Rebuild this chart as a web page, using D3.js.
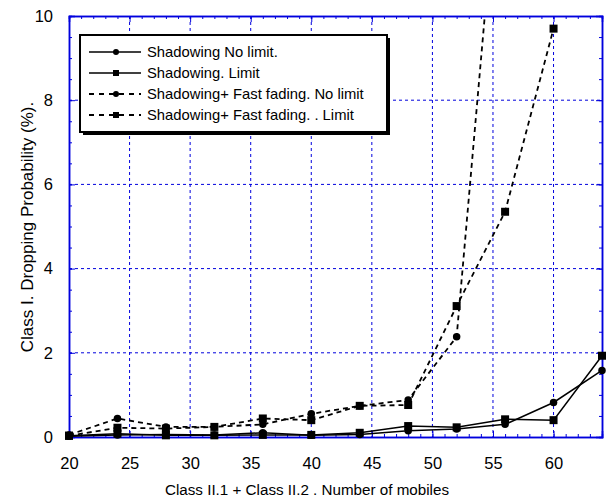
<!DOCTYPE html>
<html>
<head>
<meta charset="utf-8">
<script src="https://cdn.jsdelivr.net/npm/d3@7"></script>
<style>
  body { margin: 0; background: #fff; }
  svg { font-family: "Liberation Sans", Arial, sans-serif; }
</style>
</head>
<body>
<div id="chart"></div>
<script>
// data
var mobiles = [20, 24, 28, 32, 36, 40, 44, 48, 52, 56, 60, 64];
var shadowNoLimit = [0.02, 0.05, 0.06, 0.05, 0.10, 0.04, 0.06, 0.15, 0.19, 0.30, 0.82, 1.58];
var shadowLimit = [0.03, 0.08, 0.04, 0.04, 0.05, 0.05, 0.10, 0.26, 0.23, 0.42, 0.40, 1.93];
var fadingNoLimit = [0.05, 0.44, 0.24, 0.24, 0.30, 0.55, 0.74, 0.88, 2.38, 15.5];
var fadingLimit = [0.03, 0.22, 0.20, 0.24, 0.44, 0.40, 0.74, 0.76, 3.11, 5.35, 9.7];
var xTicks = [20, 25, 30, 35, 40, 45, 50, 55, 60];
var yTicks = [0, 2, 4, 6, 8, 10];
var seriesNames = ["Shadowing No limit.", "Shadowing. Limit",
    "Shadowing+ Fast fading. No limit", "Shadowing+ Fast fading. . Limit"];

var series = [
    { name: seriesNames[0], vals: shadowNoLimit, dash: null, marker: 'circle' },
    { name: seriesNames[1], vals: shadowLimit, dash: null, marker: 'square' },
    { name: seriesNames[2], vals: fadingNoLimit, dash: '5,4', marker: 'circle' },
    { name: seriesNames[3], vals: fadingLimit, dash: '5,4', marker: 'square' }
];

var margin = { top: 16, right: 4, bottom: 63, left: 69 };
var width = 606 - margin.left - margin.right,
    height = 500 - margin.top - margin.bottom;
var blue = '#0000dd';

var x = d3.scaleLinear().domain([20, 64]).range([0, width]);
var y = d3.scaleLinear().domain([0, 10]).range([height, 0]);

var svg = d3.select('#chart').append('svg')
    .attr('width', 606).attr('height', 500);
var g = svg.append('g')
    .attr('transform', 'translate(' + margin.left + ',' + margin.top + ')');

svg.append('defs').append('clipPath').attr('id', 'clip')
    .append('rect').attr('x', -6).attr('y', 0).attr('width', width + 12).attr('height', height + 6);

// grid
g.selectAll('.vgrid').data(xTicks.slice(1)).enter().append('line')
    .attr('x1', d => x(d)).attr('x2', d => x(d))
    .attr('y1', 0).attr('y2', height)
    .attr('stroke', blue).attr('stroke-width', 1).attr('stroke-dasharray', '3,3');
g.selectAll('.hgrid').data(yTicks.slice(1, -1)).enter().append('line')
    .attr('x1', 0).attr('x2', width)
    .attr('y1', d => y(d)).attr('y2', d => y(d))
    .attr('stroke', blue).attr('stroke-width', 1).attr('stroke-dasharray', '3,3');

// axes (ticks inside, on all four sides)
function styleAxis(sel) {
    sel.select('.domain').attr('stroke', blue).attr('stroke-width', 1.5);
    sel.selectAll('.tick line').attr('stroke', blue);
    sel.selectAll('text').attr('fill', '#000').attr('font-size', 16.5)
        .attr('font-family', '"Liberation Sans", Arial, sans-serif');
}
var xMinor = d3.range(20, 65, 1), yMinor = d3.range(0, 10.01, 0.5);

g.append('g').attr('transform', 'translate(0,' + height + ')')
    .call(d3.axisBottom(x).tickValues(xMinor).tickSize(-3).tickFormat(''))
    .call(styleAxis);
g.append('g').attr('transform', 'translate(0,' + height + ')')
    .call(d3.axisBottom(x).tickValues(xTicks).tickSize(-6).tickPadding(20).tickFormat(d3.format('d')))
    .call(styleAxis);
g.append('g')
    .call(d3.axisTop(x).tickValues(xMinor).tickSize(-3).tickFormat(''))
    .call(styleAxis);
g.append('g')
    .call(d3.axisTop(x).tickValues(xTicks).tickSize(-6).tickFormat(''))
    .call(styleAxis);
g.append('g')
    .call(d3.axisLeft(y).tickValues(yMinor).tickSize(-3).tickFormat(''))
    .call(styleAxis);
g.append('g')
    .call(d3.axisLeft(y).tickValues(yTicks).tickSize(-6).tickPadding(16).tickFormat(d3.format('d')))
    .call(styleAxis);
g.append('g').attr('transform', 'translate(' + width + ',0)')
    .call(d3.axisRight(y).tickValues(yMinor).tickSize(-3).tickFormat(''))
    .call(styleAxis);
g.append('g').attr('transform', 'translate(' + width + ',0)')
    .call(d3.axisRight(y).tickValues(yTicks).tickSize(-6).tickFormat(''))
    .call(styleAxis);

// lines
var line = d3.line().x((d, i) => x(mobiles[i])).y(d => y(d));
var plot = g.append('g').attr('clip-path', 'url(#clip)');
series.forEach(function(s) {
    plot.append('path').datum(s.vals)
        .attr('d', line)
        .attr('fill', 'none').attr('stroke', '#000')
        .attr('stroke-width', s.dash ? 1.8 : 1.5)
        .attr('stroke-dasharray', s.dash);
});

function drawMarker(sel, type, size) {
    if (type === 'circle') {
        sel.append('circle').attr('r', size / 2).attr('fill', '#000');
    } else {
        sel.append('rect').attr('x', -size / 2).attr('y', -size / 2)
            .attr('width', size).attr('height', size).attr('fill', '#000');
    }
}
series.forEach(function(s) {
    var pts = s.vals.map((v, i) => [mobiles[i], v]).filter(p => p[1] <= 10);
    pts.forEach(function(p) {
        var m = plot.append('g').attr('transform', 'translate(' + x(p[0]) + ',' + y(p[1]) + ')');
        drawMarker(m, s.marker, s.marker === 'circle' ? 7.5 : 8);
    });
});

// legend
var lg = svg.append('g').attr('transform', 'translate(80,35)');
lg.append('rect').attr('x', 3).attr('y', 3).attr('width', 307).attr('height', 97).attr('fill', '#000');
lg.append('rect').attr('x', 0).attr('y', 0).attr('width', 307).attr('height', 97)
    .attr('fill', '#fff').attr('stroke', '#000').attr('stroke-width', 2);
series.forEach(function(s, i) {
    var ry = 17 + i * 21;
    lg.append('line').attr('x1', 9).attr('x2', 61).attr('y1', ry).attr('y2', ry)
        .attr('stroke', '#000').attr('stroke-width', s.dash ? 1.8 : 1.5)
        .attr('stroke-dasharray', s.dash ? '5,5' : null);
    var m = lg.append('g').attr('transform', 'translate(36,' + ry + ')');
    drawMarker(m, s.marker, 6);
    lg.append('text').attr('x', 67).attr('y', ry + 5)
        .attr('font-size', 14.8).text(s.name);
});

// axis titles
svg.append('text').attr('x', 307).attr('y', 495).attr('text-anchor', 'middle')
    .attr('font-size', 15.2).text('Class II.1 + Class II.2 . Number of mobiles');
svg.append('text').attr('transform', 'translate(33,227) rotate(-90)').attr('text-anchor', 'middle')
    .attr('font-size', 17).text('Class I. Dropping Probability (%).');
</script>
</body>
</html>
